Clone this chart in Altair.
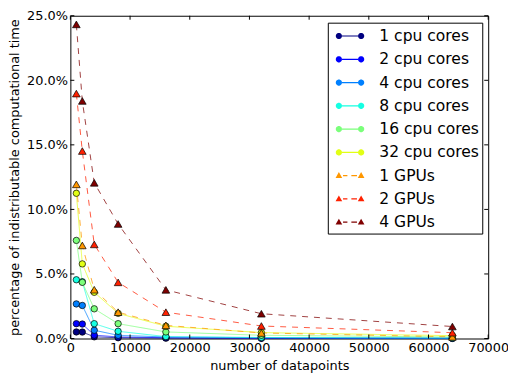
import math
import altair as alt
import pandas as pd

# ---- data ----
x_points = [1000, 2000, 4000, 8000, 16000, 32000, 64000]

series_names = ["1 cpu cores", "2 cpu cores", "4 cpu cores", "8 cpu cores",
                "16 cpu cores", "32 cpu cores", "1 GPUs", "2 GPUs", "4 GPUs"]
series_kind = ["cpu", "cpu", "cpu", "cpu", "cpu", "cpu", "gpu", "gpu", "gpu"]

# values in percent
cpu1 = [0.51, 0.50, 0.13, 0.06, 0.03, 0.015, 0.008]
cpu2 = [1.15, 1.12, 0.26, 0.12, 0.06, 0.03, 0.015]
cpu4 = [2.68, 2.56, 0.64, 0.25, 0.12, 0.06, 0.03]
cpu8 = [4.55, 4.40, 1.15, 0.56, 0.15, 0.08, 0.04]
cpu16 = [7.60, 4.35, 2.30, 1.15, 0.51, 0.25, 0.12]
cpu32 = [11.25, 5.78, 3.58, 1.95, 0.95, 0.46, 0.22]
gpu1 = [11.94, 7.21, 3.78, 2.04, 1.02, 0.43, 0.13]
gpu2 = [18.97, 14.52, 7.29, 4.35, 2.04, 0.97, 0.45]
gpu4 = [24.33, 18.40, 12.06, 8.87, 3.77, 1.92, 0.93]

series_values = [cpu1, cpu2, cpu4, cpu8, cpu16, cpu32, gpu1, gpu2, gpu4]

series_colors = ["#000080", "#0000FF", "#0080FF", "#15FFE2", "#7BFF7B",
                 "#E2FF15", "#FF9700", "#FF2100", "#800000"]

x_ticks = [0, 10000, 20000, 30000, 40000, 50000, 60000, 70000]
y_ticks = [0.0, 0.05, 0.10, 0.15, 0.20, 0.25]

rows = []
for name, kind, vals in zip(series_names, series_kind, series_values):
    for xv, v in zip(x_points, vals):
        rows.append({"n": xv, "pct": v / 100.0, "series": name, "kind": kind})
df = pd.DataFrame(rows)

# ---- legend symbol paths (line with two markers, like matplotlib) ----
def fmt(v):
    return f"{v:.3f}"

def rect(x0, x1, h=0.055):
    return f"M{fmt(x0)},{fmt(-h)}L{fmt(x1)},{fmt(-h)}L{fmt(x1)},{fmt(h)}L{fmt(x0)},{fmt(h)}Z"

def circ(cx, r=0.30, n=18):
    pts = []
    for i in range(n):
        a = 2 * math.pi * i / n
        pts.append((cx + r * math.cos(a), r * math.sin(a)))
    return "M" + "L".join(f"{fmt(px)},{fmt(py)}" for px, py in pts) + "Z"

def tri(cx, hw=0.32, top=-0.34, base=0.22):
    return (f"M{fmt(cx)},{fmt(top)}L{fmt(cx + hw)},{fmt(base)}"
            f"L{fmt(cx - hw)},{fmt(base)}Z")

c1, c2 = -0.22, 1.92
cpu_path = rect(c1 + 0.30, c2 - 0.30) + circ(c1) + circ(c2)
gpu_path = rect(0.18, 0.60) + rect(0.98, 1.52) + tri(c1) + tri(c2)
legend_paths = [cpu_path if k == "cpu" else gpu_path for k in series_kind]

FONT = "DejaVu Sans"

x_enc = alt.X("n:Q",
              scale=alt.Scale(domain=[0, 70000], nice=False, zero=False),
              axis=alt.Axis(values=x_ticks, format="d", labelFont=FONT, labelFontSize=13,
                            labelColor="black", domain=False, ticks=False, tickSize=0,
                            grid=False, labelPadding=3, labelFlush=False,
                            title="number of datapoints", titleFont=FONT, titleFontSize=13,
                            titleFontWeight="normal", titleColor="black", titlePadding=5))
y_enc = alt.Y("pct:Q",
              scale=alt.Scale(domain=[0, 0.25], nice=False),
              axis=alt.Axis(values=y_ticks, format=".1%", labelFont=FONT, labelFontSize=13,
                            labelColor="black", domain=False, ticks=False, tickSize=0,
                            grid=False, labelPadding=3, labelFlush=False,
                            title="percentage of indistributable computational time",
                            titleFont=FONT, titleFontSize=13, titleFontWeight="normal",
                            titleColor="black", titlePadding=5))

color_scale = alt.Scale(domain=series_names, range=series_colors)

leg = alt.Legend(title=None, orient="none", legendX=260, legendY=7,
                 strokeColor="black", fillColor="white", padding=3, cornerRadius=0,
                 labelFont=FONT, labelFontSize=15.7, labelColor="black",
                 symbolSize=441, symbolStrokeWidth=0, rowPadding=4.5,
                 labelOffset=28, symbolOpacity=1)

color_enc = alt.Color("series:N", scale=color_scale, legend=leg)

base = alt.Chart(df)

# invisible layer that carries the legend (first, so its symbol encoding wins)
legend_layer = base.mark_point(filled=True, opacity=0).encode(
    x=x_enc, y=y_enc,
    color=color_enc,
    shape=alt.Shape("series:N", scale=alt.Scale(domain=series_names, range=legend_paths),
                    legend=leg),
)

lines = base.mark_line(strokeWidth=1, opacity=0.75).encode(
    x=x_enc, y=y_enc, color=color_enc,
    strokeDash=alt.StrokeDash("kind:N",
                              scale=alt.Scale(domain=["cpu", "gpu"], range=[[1, 0], [6, 6]]),
                              legend=None),
    detail="series:N",
    order="n:Q",
)

cpu_pts = base.transform_filter("datum.kind == 'cpu'").mark_point(
    shape="circle", filled=True, size=42, stroke="black", strokeWidth=0.7, opacity=1
).encode(x=x_enc, y=y_enc, color=color_enc)

gpu_pts = base.transform_filter("datum.kind == 'gpu'").mark_point(
    shape="triangle-up", filled=True, size=60, stroke="black", strokeWidth=0.7, opacity=1
).encode(x=x_enc, y=y_enc, color=color_enc)

# inward ticks on all four sides
xt = pd.DataFrame({"n": x_ticks})
yt = pd.DataFrame({"pct": y_ticks})
tick_len_y = 4 / 326 * 0.25
tick_len_x = 4 / 422 * 70000

bottom_ticks = alt.Chart(xt).mark_rule(color="black", strokeWidth=1).encode(
    x=x_enc, y=alt.Y(datum=0.0), y2=alt.Y2(datum=tick_len_y))
top_ticks = alt.Chart(xt).mark_rule(color="black", strokeWidth=1).encode(
    x=x_enc, y=alt.Y(datum=0.25), y2=alt.Y2(datum=0.25 - tick_len_y))
left_ticks = alt.Chart(yt).mark_rule(color="black", strokeWidth=1).encode(
    y=y_enc, x=alt.X(datum=0), x2=alt.X2(datum=tick_len_x))
right_ticks = alt.Chart(yt).mark_rule(color="black", strokeWidth=1).encode(
    y=y_enc, x=alt.X(datum=70000), x2=alt.X2(datum=70000 - tick_len_x))

chart = alt.layer(
    legend_layer, lines, cpu_pts, gpu_pts,
    bottom_ticks, top_ticks, left_ticks, right_ticks,
).properties(
    width=422, height=326,
    padding={"left": 63, "top": 6, "right": 20, "bottom": 33},
    autosize=alt.AutoSizeParams(type="none"),
    background="white",
).configure_view(stroke="black", strokeWidth=1)

chart.save("out.html", embed_options={"renderer": "svg", "actions": False})
